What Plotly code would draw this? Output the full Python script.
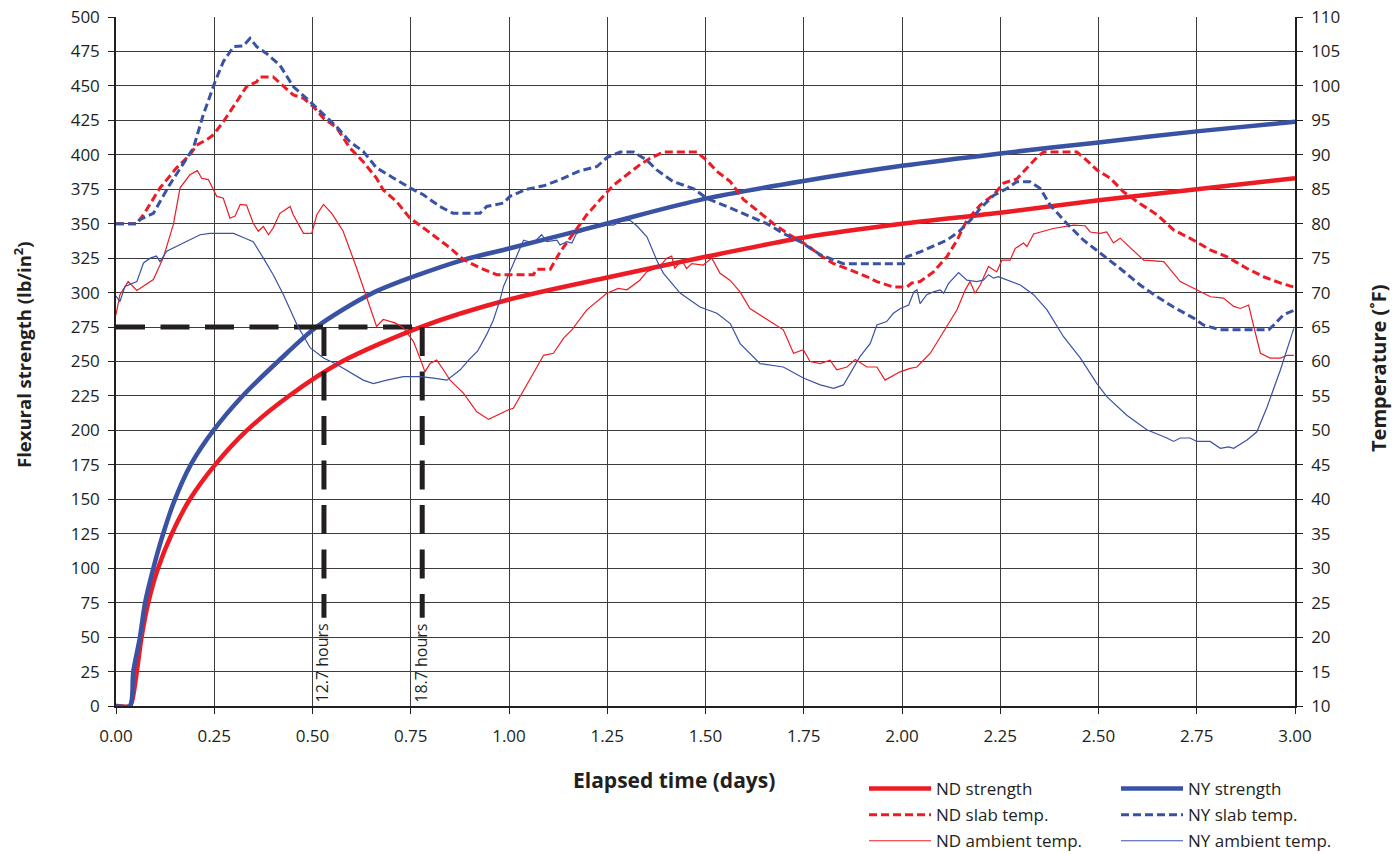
import plotly.graph_objects as go

RED = "#ED1C24"
BLUE = "#3A52A3"
INK = "#231F20"
FONT = "Open Sans"

# ---- Flexural strength (lb/in^2) vs elapsed time (days)
nd_str_t = [0, 0.035, 0.042, 0.053, 0.065, 0.082, 0.107, 0.142, 0.188, 0.252, 0.333, 0.44,
            0.575, 0.775, 1.0, 1.25, 1.5, 1.75, 2.0, 2.25, 2.5, 2.75, 3.0]
nd_str = [0, 0, 5, 25, 50, 75, 100, 125, 150, 175, 200, 225,
          250, 275, 295, 311, 326, 340, 350, 358, 367, 375, 383]

ny_str_t = [0, 0.035, 0.044, 0.061, 0.074, 0.095, 0.12, 0.15, 0.19, 0.248, 0.322, 0.412,
            0.51, 0.655, 0.875, 1.0, 1.247, 1.497, 1.75, 2.0, 2.25, 2.5, 2.75, 3.0]
ny_str = [0, 0, 25, 50, 75, 100, 125, 150, 175, 200, 225, 250,
          275, 300, 323, 332, 350, 368, 381, 392, 401, 409, 417, 424]

# ---- Slab temperatures (deg F)
nd_slab_t = [0, 0.053, 0.07, 0.112, 0.154, 0.188, 0.205, 0.231, 0.248, 0.273, 0.307, 0.332,
             0.358, 0.366, 0.4, 0.426, 0.451, 0.477, 0.502, 0.528, 0.562, 0.595, 0.629, 0.663,
             0.68, 0.714, 0.748, 0.782, 0.816, 0.85, 0.884, 0.926, 0.969, 1.062, 1.07, 1.105,
             1.13, 1.164, 1.198, 1.232, 1.266, 1.3, 1.334, 1.359, 1.393, 1.478, 1.503, 1.529,
             1.563, 1.597, 1.631, 1.673, 1.716, 1.758, 1.792, 1.826, 1.868, 1.911, 1.936, 1.978,
             2.012, 2.025, 2.046, 2.08, 2.114, 2.14, 2.165, 2.199, 2.233, 2.259, 2.292, 2.318,
             2.343, 2.36, 2.445, 2.47, 2.496, 2.53, 2.564, 2.606, 2.649, 2.691, 2.742, 2.784,
             2.827, 2.878, 2.92, 2.962, 2.997]
nd_slab = [80, 80, 81.3, 85.2, 88.1, 90, 91.4, 92.2, 92.9, 94.8, 97.7, 99.9,
           100.6, 101.3, 101.3, 99.9, 98.7, 98.2, 97, 95.3, 93.9, 91, 89, 86.6,
           84.9, 83.2, 80.8, 79.4, 77.9, 76.5, 74.8, 73.6, 72.6, 72.6, 73.4, 73.4,
           75.9, 78.6, 81.3, 83.5, 85.6, 87.1, 88.6, 89.5, 90.4, 90.4, 89.2, 87.6,
           86.1, 83.5, 81.9, 80, 78.3, 76.9, 75.4, 74.2, 73.3, 72.3, 71.6, 70.8,
           70.8, 71.4, 71.6, 73, 75.2, 77.6, 80.5, 82.7, 84.2, 85.9, 86.5, 88.1,
           89.6, 90.4, 90.4, 89.2, 87.8, 86.6, 84.6, 82.9, 81.3, 79.1, 77.6, 76.2,
           75.2, 73.5, 72.3, 71.4, 70.8]

ny_slab_t = [0, 0.053, 0.06, 0.095, 0.137, 0.197, 0.222, 0.252, 0.273, 0.299, 0.324, 0.341,
             0.358, 0.383, 0.417, 0.451, 0.494, 0.528, 0.561, 0.595, 0.629, 0.663, 0.706,
             0.748, 0.782, 0.824, 0.858, 0.926, 0.943, 0.986, 1.003, 1.045, 1.088, 1.126,
             1.177, 1.224, 1.249, 1.283, 1.317, 1.351, 1.376, 1.418, 1.469, 1.503, 1.554,
             1.605, 1.656, 1.698, 1.741, 1.792, 1.851, 2.004, 2.012, 2.046, 2.08, 2.114,
             2.148, 2.174, 2.199, 2.233, 2.267, 2.292, 2.326, 2.352, 2.377, 2.42, 2.462,
             2.505, 2.555, 2.606, 2.649, 2.691, 2.742, 2.767, 2.81, 2.933, 2.946, 2.971, 2.997]
ny_slab = [80, 80, 80.6, 81.5, 85.7, 91, 95.8, 100.6, 103.5, 105.7, 105.8, 106.9,
           105.7, 104.7, 103, 99.9, 97.7, 95.8, 94.1, 91.9, 90.5, 88.1, 86.6,
           85.2, 84.2, 82.5, 81.5, 81.5, 82.5, 83, 84, 85, 85.5, 86.3,
           87.6, 88.3, 89.6, 90.4, 90.4, 89.2, 87.8, 86.1, 85.1, 83.7, 82.5,
           81.3, 80, 78.6, 77.4, 75.5, 74.2, 74.2, 75.2, 75.9, 76.7, 77.6,
           79, 80.5, 82.2, 84.1, 85.1, 86.1, 86.1, 85.1, 82.7, 80, 77.6,
           75.7, 73.5, 71.1, 69.4, 67.9, 66.3, 65.3, 64.6, 64.6, 65.3, 66.8, 67.4]

# ---- Ambient temperatures (deg F)
nd_amb_t = [0, 0.01, 0.031, 0.053, 0.095, 0.12, 0.146, 0.163, 0.188, 0.207, 0.218, 0.235,
            0.256, 0.273, 0.29, 0.303, 0.316, 0.332, 0.349, 0.362, 0.375, 0.388, 0.4, 0.417,
            0.443, 0.451, 0.477, 0.498, 0.511, 0.528, 0.549, 0.578, 0.612, 0.638, 0.663, 0.68,
            0.71, 0.731, 0.757, 0.778, 0.786, 0.799, 0.816, 0.833, 0.85, 0.884, 0.918, 0.948,
            0.969, 0.999, 1.011, 1.037, 1.062, 1.088, 1.113, 1.139, 1.16, 1.198, 1.249, 1.278,
            1.3, 1.333, 1.35, 1.384, 1.401, 1.414, 1.422, 1.439, 1.452, 1.465, 1.494, 1.516,
            1.537, 1.562, 1.588, 1.613, 1.647, 1.698, 1.724, 1.749, 1.766, 1.792, 1.817, 1.834,
            1.86, 1.881, 1.911, 1.936, 1.957, 1.995, 2.021, 2.038, 2.072, 2.114, 2.14, 2.161,
            2.173, 2.186, 2.199, 2.22, 2.241, 2.254, 2.275, 2.288, 2.309, 2.318, 2.335, 2.385,
            2.436, 2.466, 2.479, 2.504, 2.521, 2.538, 2.555, 2.615, 2.666, 2.708, 2.751, 2.785,
            2.818, 2.844, 2.861, 2.882, 2.895, 2.912, 2.937, 2.963, 2.98, 2.997]
nd_amb = [66.8, 69.7, 71.6, 70.3, 71.9, 75, 79.9, 85.2, 87.1, 87.7, 86.6, 86.4,
          84, 83.7, 80.8, 81.1, 82.8, 82.7, 80.1, 78.9, 79.6, 78.4, 79.4, 81.5,
          82.5, 81.3, 78.6, 78.6, 81.3, 82.8, 81.5, 78.9, 73.6, 69.2, 65.1, 66.1,
          65.6, 64.9, 62.9, 59.8, 58.5, 59.7, 60.2, 58.8, 57.3, 55.4, 52.7, 51.6,
          52.2, 53, 53.2, 55.9, 58.3, 60.9, 61.2, 63.4, 64.6, 67.5, 69.9, 70.6,
          70.4, 71.8, 73, 73.8, 75, 75.3, 73.5, 74.7, 73.5, 74.2, 74, 75,
          72.8, 71.8, 70.1, 67.7, 66.5, 64.6, 61.2, 61.7, 60, 59.7, 60.2, 58.8,
          59.2, 60.3, 59.2, 59.2, 57.3, 58.5, 59, 59.2, 61.2, 65.1, 67.5, 70.4,
          71.6, 69.9, 71.1, 73.8, 73, 74.7, 74.7, 76.4, 77.2, 76.7, 78.5, 79.3,
          79.8, 79.7, 78.8, 78.6, 78.8, 77.2, 77.9, 74.7, 74.5, 71.6, 70.4, 69.4,
          69.2, 68, 67.7, 68.2, 65.1, 61.2, 60.5, 60.5, 60.9, 60.9]

ny_amb_t = [0, 0.01, 0.023, 0.036, 0.053, 0.07, 0.087, 0.103, 0.112, 0.129, 0.163, 0.188,
            0.214, 0.239, 0.265, 0.299, 0.324, 0.349, 0.375, 0.4, 0.426, 0.46, 0.494, 0.528,
            0.561, 0.578, 0.629, 0.655, 0.689, 0.731, 0.774, 0.808, 0.842, 0.876, 0.897, 0.92,
            0.943, 0.96, 0.977, 0.986, 1.011, 1.024, 1.037, 1.062, 1.083, 1.096, 1.122, 1.13,
            1.147, 1.16, 1.172, 1.232, 1.266, 1.283, 1.308, 1.325, 1.351, 1.376, 1.393, 1.436,
            1.486, 1.529, 1.563, 1.588, 1.639, 1.698, 1.749, 1.792, 1.826, 1.851, 1.868, 1.893,
            1.919, 1.936, 1.961, 1.978, 1.996, 2.017, 2.03, 2.038, 2.046, 2.063, 2.08, 2.097,
            2.106, 2.118, 2.144, 2.165, 2.19, 2.207, 2.22, 2.233, 2.245, 2.275, 2.301, 2.335,
            2.369, 2.411, 2.454, 2.496, 2.521, 2.572, 2.623, 2.674, 2.691, 2.708, 2.733, 2.75,
            2.784, 2.81, 2.831, 2.844, 2.878, 2.903, 2.929, 2.963, 2.98, 2.997]
ny_amb = [69.5, 68.7, 70.9, 71.2, 71.6, 74.3, 75, 75.3, 74.5, 76, 77, 77.7,
          78.4, 78.6, 78.6, 78.6, 78, 77.4, 75, 72.6, 69.7, 65.4, 62, 60.5,
          59.6, 59, 57.3, 56.8, 57.3, 57.8, 57.8, 57.6, 57.3, 58.8, 60.2, 61.5,
          63.9, 66, 68.9, 70.9, 74.2, 75.7, 77.6, 77.2, 78.4, 77.4, 77.6, 76.9,
          77.4, 77.2, 78.6, 79.8, 79.8, 80.3, 80.5, 79.7, 78.1, 74.7, 72.8, 69.9,
          67.9, 67, 65.5, 62.6, 59.7, 59.2, 57.6, 56.6, 56.1, 56.6, 58.3, 60.7,
          62.6, 65.3, 65.8, 67, 67.7, 68.2, 70.1, 70.4, 68.4, 69.7, 70.1, 70.4,
          69.9, 71.3, 72.9, 71.8, 71.6, 71.8, 72.6, 72.1, 72.3, 71.6, 71.1, 69.7,
          67.5, 63.6, 60.5, 56.8, 54.9, 52.2, 50.1, 48.9, 48.4, 48.9, 48.9, 48.4,
          48.4, 47.4, 47.6, 47.4, 48.6, 49.8, 53.4, 58.8, 61.7, 64.8]

# ---- Time to reach the 275 lb/in^2 opening strength
target_strength = 275
hours_ny = 12.7
hours_nd = 18.7
guide_bottom = 64

x_ticks = [i * 0.25 for i in range(13)]
left_ticks = list(range(0, 501, 25))
right_ticks = list(range(10, 111, 5))

fig = go.Figure()

# temperatures (right axis); ND entries in the first legend column, NY in the second
fig.add_trace(go.Scatter(x=nd_amb_t, y=nd_amb, yaxis="y2", mode="lines", name="ND ambient temp.",
                         line=dict(color=RED, width=1.2), legend="legend", legendrank=3,
                         legendgroup="nd_amb"))
fig.add_trace(go.Scatter(x=ny_amb_t, y=ny_amb, yaxis="y2", mode="lines", name="NY ambient temp.",
                         line=dict(color=BLUE, width=1.2), legend="legend2", legendrank=3,
                         legendgroup="ny_amb"))
fig.add_trace(go.Scatter(x=nd_slab_t, y=nd_slab, yaxis="y2", mode="lines", name="ND slab temp.",
                         line=dict(color=RED, width=3, dash="8px,4px"), legend="legend",
                         legendrank=2, legendgroup="nd_slab"))
fig.add_trace(go.Scatter(x=ny_slab_t, y=ny_slab, yaxis="y2", mode="lines", name="NY slab temp.",
                         line=dict(color=BLUE, width=3, dash="8px,4px"), legend="legend2",
                         legendrank=2, legendgroup="ny_slab"))

# strength (left axis)
fig.add_trace(go.Scatter(x=nd_str_t, y=nd_str, mode="lines", name="ND strength",
                         line=dict(color=RED, width=4.5, shape="spline", smoothing=0.8),
                         legend="legend", legendrank=1, legendgroup="nd_str"))
fig.add_trace(go.Scatter(x=ny_str_t, y=ny_str, mode="lines", name="NY strength",
                         line=dict(color=BLUE, width=4.5, shape="spline", smoothing=0.8),
                         legend="legend2", legendrank=1, legendgroup="ny_str"))

# guide lines to the opening strength
t_ny = hours_ny / 24
t_nd = hours_nd / 24
guide = dict(color=INK, width=5, dash="29px,15.5px")
fig.add_trace(go.Scatter(x=[0, t_nd], y=[target_strength, target_strength], mode="lines",
                         line=guide, showlegend=False, hoverinfo="skip"))
for tt in (t_ny, t_nd):
    fig.add_trace(go.Scatter(x=[tt, tt], y=[target_strength, guide_bottom], mode="lines",
                             line=guide, showlegend=False, hoverinfo="skip"))
    fig.add_annotation(x=tt - 0.004, y=1, xref="x", yref="y", text=f"{tt * 24:.1f} hours",
                       textangle=-90, showarrow=False, xanchor="center", yanchor="bottom",
                       font=dict(family=FONT, size=16, color=INK))

legend_common = dict(orientation="v", xanchor="left", yanchor="top", itemwidth=62,
                     font=dict(family=FONT, size=17, color=INK), traceorder="grouped",
                     tracegroupgap=1, bgcolor="rgba(0,0,0,0)")

grid = "#3c3c3c"
axis_common = dict(showline=True, linecolor=INK, linewidth=1.5, ticks="outside", ticklen=6,
                   tickcolor=INK, tickwidth=1.2, zeroline=False, tickfont=dict(size=17))
fig.update_layout(
    width=1398, height=854,
    margin=dict(l=116, r=103, t=17, b=148, autoexpand=False),
    paper_bgcolor="white", plot_bgcolor="white",
    font=dict(family=FONT, size=16, color=INK),
    showlegend=True,
    legend=dict(x=(864 - 116) / 1179, y=-(771 - 706) / 689, **legend_common),
    legend2=dict(x=(1116 - 116) / 1179, y=-(771 - 706) / 689, **legend_common),
    xaxis=dict(range=[0, 3], tickvals=x_ticks, tickformat=".2f", showgrid=True,
               gridcolor=grid, gridwidth=1.2, ticklabelstandoff=8, **axis_common),
    yaxis=dict(range=[0, 500], tickvals=left_ticks, showgrid=True, gridcolor=grid,
               gridwidth=1.2, ticklabelstandoff=5, **axis_common),
    yaxis2=dict(range=[10, 110], tickvals=right_ticks, overlaying="y", side="right",
                showgrid=False, ticklabelstandoff=5, **axis_common),
)

fig.add_annotation(x=(674 - 116) / 1179, y=-(780 - 706) / 689, xref="paper", yref="paper",
                   text="<b>Elapsed time (days)</b>", showarrow=False,
                   xanchor="center", yanchor="middle",
                   font=dict(family=FONT, size=21, color=INK))
fig.add_annotation(x=-(116 - 22) / 1179, y=(706 - 355) / 689, xref="paper", yref="paper",
                   text="<b>Flexural strength (lb/in<sup>2</sup>)</b>", textangle=-90,
                   showarrow=False, xanchor="center", yanchor="middle",
                   font=dict(family=FONT, size=18.5, color=INK))
fig.add_annotation(x=1 + (1378 - 1295) / 1179, y=(706 - 368) / 689, xref="paper", yref="paper",
                   text="<b>Temperature (˚F)</b>", textangle=-90,
                   showarrow=False, xanchor="center", yanchor="middle",
                   font=dict(family=FONT, size=20, color=INK))

fig.write_html("out.html")
